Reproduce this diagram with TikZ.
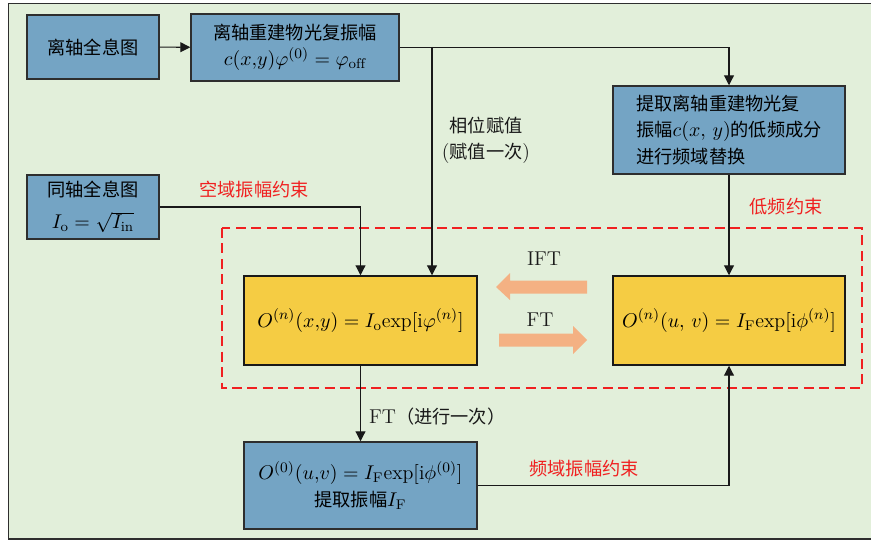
\documentclass[tikz,border=0pt]{standalone}
\usepackage{fontspec}
\newfontfamily\cjk[Scale=0.91]{Noto Sans CJK SC}
\usetikzlibrary{arrows.meta}
\definecolor{bgreen}{HTML}{E2EFDA}
\definecolor{boxblue}{HTML}{74A4C4}
\definecolor{boxyellow}{HTML}{F5CC43}
\definecolor{salmon}{HTML}{F4B183}
\definecolor{edgec}{HTML}{2E2E2E}
\definecolor{redc}{HTML}{F02020}
\tikzset{
  bluebox/.style={draw=edgec, fill=boxblue, line width=0.8pt, align=center, inner sep=2pt,
    font=\cjk\fontsize{11}{14.5}\selectfont},
  yelbox/.style={draw=black!90, fill=boxyellow, line width=0.8pt, align=center, inner sep=2pt,
    font=\fontsize{11}{14.5}\selectfont},
  conn/.style={draw=black!90, line width=0.6pt, -{Triangle[length=5.5pt,width=5.5pt]}},
  redlab/.style={text=redc, font=\cjk\fontsize{11}{12}\selectfont, inner sep=1pt},
  lab/.style={text=black!90, font=\fontsize{11}{14.5}\selectfont, inner sep=1pt, align=center},
  bigarrow/.style={fill=salmon, draw=none}
}
\begin{document}
\begin{tikzpicture}[x=0.55pt,y=-0.55pt]
\useasboundingbox (0,0) rectangle (871,540);
\clip (0,0) rectangle (871,540);
\draw[fill=bgreen, draw=edgec, line width=1pt] (8.5,3.5) rectangle (900,539);

% red dashed region
\draw[redc, line width=0.7pt, dash pattern=on 5.5pt off 3pt] (222,228) rectangle (862,388);

% boxes
\node[bluebox, minimum width=72.6pt, minimum height=35.2pt] (A) at (93,47) {离轴全息图};
\node[bluebox, minimum width=114.4pt, minimum height=36.85pt] (B) at (295,47.5)
  {离轴重建物光复振幅\\[0pt] $c(x{,}y)\varphi^{(0)}=\varphi_\mathrm{off}$};
\node[bluebox, minimum width=127.6pt, minimum height=48.4pt, align=left] (C) at (729,130)
  {提取离轴重建物光复\\振幅$c(x,\,y)$的低频成分\\进行频域替换};
\node[bluebox, minimum width=72.6pt, minimum height=35.2pt] (D) at (93,207)
  {同轴全息图\\[3pt]$I_\mathrm{o}=\sqrt{I_\mathrm{in}}$};
\node[yelbox, minimum width=128.15pt, minimum height=48.95pt] (E) at (360.5,320.5)
  {$O^{(n)}(x{,}y)=I_\mathrm{o}\mathrm{exp}[\mathrm{i}\varphi^{(n)}]$};
\node[yelbox, minimum width=127.6pt, minimum height=48.95pt] (F) at (729,320.5)
  {$O^{(n)}(u,\,v)=I_\mathrm{F}\mathrm{exp}[\mathrm{i}\phi^{(n)}]$};
\node[bluebox, minimum width=128.15pt, minimum height=47.85pt] (G) at (360.5,485.5)
  {$O^{(0)}(u{,}v)=I_\mathrm{F}\mathrm{exp}[\mathrm{i}\phi^{(0)}]$\\提取振幅$I_\mathrm{F}$};

% connectors
\coordinate (br) at (432,47);
\draw[conn] (A) -- (B);
\draw[conn] (B.east) -| (C.north);
\draw[conn] (br) -- (br |- E.north);
\draw[conn] (D.east) -| (E.north);
\draw[conn] (C.south) -- (F.north);
\draw[conn] (E.south) -- (G.north);
\draw[conn] (G.east) -| (F.south);

% labels
\node[redlab] (l1) at (254,190) {空域振幅约束};
\node[lab] (l2) at (486,140) {{\cjk 相位赋值}\\({\cjk 赋值一次})};
\node[redlab] (l3) at (786,207) {低频约束};
\node[lab, anchor=west] (l4) at (367,417) {FT{\cjk （进行一次）}};
\node[redlab] (l5) at (584,469) {频域振幅约束};
\node[lab] (l6) at (544,259) {IFT};
\node[lab] (l7) at (540,320) {FT};

% big transform arrows
\fill[bigarrow] (496,287) -- (510,273) -- (510,280.5) -- (587,280.5) -- (587,293.5) -- (510,293.5) -- (510,300) -- cycle;
\fill[bigarrow] (587,340) -- (573,326) -- (573,333.5) -- (499,333.5) -- (499,346.5) -- (573,346.5) -- (573,354) -- cycle;
\end{tikzpicture}
\end{document}
